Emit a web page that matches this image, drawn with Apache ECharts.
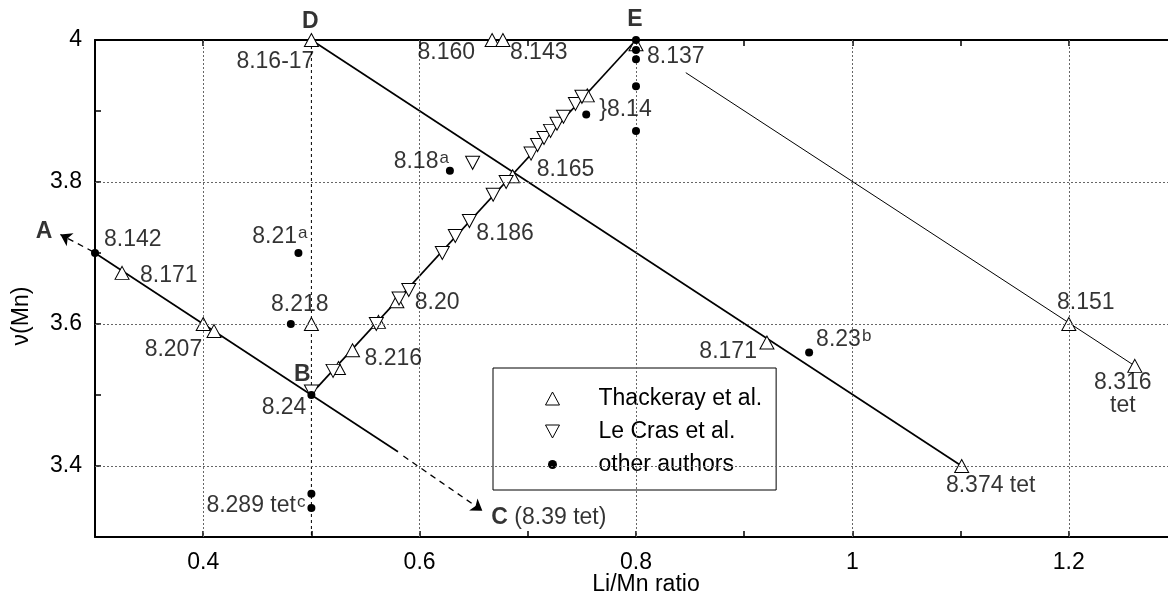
<!DOCTYPE html>
<html><head><meta charset="utf-8">
<script src="https://cdn.jsdelivr.net/npm/echarts/dist/echarts.min.js"></script>
<style>html,body{margin:0;padding:0;background:#fff}#c{width:1168px;height:598px}</style>
</head><body><div id="c"></div>
<script>
// ---------- data ----------
const xGrid = [0.4, 0.6, 0.8, 1.0, 1.2];
const yGrid = [3.4, 3.6, 3.8];

const thackeray = [
  [0.325,3.672],[0.400,3.600],[0.410,3.590],[0.500,3.600],[0.500,4.000],
  [0.525,3.538],[0.538,3.563],[0.562,3.603],[0.579,3.632],[0.686,3.808],
  [0.755,3.922],[0.800,3.994],[0.667,4.000],[0.677,4.000],[0.921,3.574],
  [1.101,3.400],[1.200,3.600],[1.261,3.541]
];
const leCras = [
  [0.500,3.505],[0.520,3.534],[0.560,3.600],[0.581,3.636],[0.590,3.648],
  [0.621,3.700],[0.633,3.724],[0.646,3.745],[0.668,3.782],[0.680,3.800],
  [0.649,3.827],[0.703,3.840],[0.709,3.852],[0.715,3.862],[0.721,3.872],
  [0.727,3.882],[0.733,3.892],[0.744,3.910],[0.750,3.920]
];
const others = [
  [0.300,3.700],[0.488,3.700],[0.481,3.600],[0.500,3.500],[0.500,3.361],
  [0.500,3.341],[0.628,3.816],[0.754,3.895],[0.800,4.000],[0.800,3.986],
  [0.800,3.973],[0.800,3.935],[0.800,3.872],[0.960,3.560]
];
const lineAB   = [[0.300,3.700],[0.580,3.420]];
const arrowToC = [[0.585,3.414],[0.658,3.337]];
const arrowToA = [[0.298,3.702],[0.268,3.726]];
const lineBE   = [[0.505,3.510],[0.800,4.000]];
const lineDF   = [[0.500,4.000],[1.101,3.400]];
const line151  = [[0.846,3.954],[1.261,3.541]];
const verticalD = [[0.500,4.000],[0.500,3.300]];

// ---------- annotation texts (anchored to the points above) ----------
const pointLabels = [
  {text:'8.142', at:['others',0], dx:9, dy:-13},
  {text:'A', at:['others',0], dx:-51, dy:-21, align:'center', bold:true},
  {text:'8.171', at:['thackeray',0], dx:18, dy:3},
  {text:'8.207', at:['thackeray',1], dx:-1, dy:26, align:'right'},
  {text:'8.218', at:['others',2], dx:9, dy:-19, align:'center'},
  {text:'B', at:['others',3], dx:-9, dy:-20, align:'center', bold:true},
  {text:'8.24', at:['others',3], dx:-5, dy:13, align:'right'},
  {text:'8.289 tet{sup|c}', at:['others',5], dx:-6, dy:-2, align:'right'},
  {text:'8.21{sup|a}', at:['others',1], dx:9, dy:-16, align:'right'},
  {text:'D', at:['thackeray',4], dx:-1, dy:-18, align:'center', bold:true},
  {text:'8.16-17', at:['thackeray',4], dx:3, dy:22, align:'right'},
  {text:'8.160', at:['thackeray',12], dx:-17, dy:13, align:'right'},
  {text:'8.143', at:['thackeray',13], dx:7, dy:13},
  {text:'E', at:['others',8], dx:-1, dy:-20, align:'center', bold:true},
  {text:'8.137', at:['others',8], dx:11, dy:17},
  {text:'}8.14', at:['others',7], dx:13, dy:-5},
  {text:'8.18{sup|a}', at:['others',6], dx:-1, dy:-9, align:'right'},
  {text:'8.165', at:['thackeray',9], dx:24, dy:-7},
  {text:'8.186', at:['leCras',6], dx:21, dy:-2},
  {text:'8.20', at:['leCras',4], dx:6, dy:13},
  {text:'8.216', at:['thackeray',6], dx:12, dy:8},
  {text:'8.171', at:['thackeray',14], dx:-10, dy:9, align:'right'},
  {text:'8.23{sup|b}', at:['others',13], dx:7, dy:-13},
  {text:'8.374 tet', at:['thackeray',15], dx:29, dy:20, align:'center'},
  {text:'8.151', at:['thackeray',16], dx:17, dy:-21, align:'center'},
  {text:'8.316\ntet', at:['thackeray',17], dx:-12, dy:28, align:'center', lh:23},
  {text:'{b|C} (8.39 tet)', at:['arrowToC',1], dx:9, dy:7}
];

// ---------- chart ----------
const FONT = 'Liberation Sans';
const FS = 23;
const sources = {thackeray, leCras, others, arrowToC, arrowToA};
const rich = {
  sup: {fontSize: 17, fontFamily: FONT, color: '#000', verticalAlign: 'top', padding: [0, 0, 7, 1]},
  b: {fontSize: FS, fontFamily: FONT, color: '#000', fontWeight: 'bold'}
};
const labelData = pointLabels.map(l => ({
  value: sources[l.at[0]][l.at[1]],
  label: {
    show: true, formatter: l.text, position: 'inside',
    offset: [l.dx, l.dy], align: l.align || 'left', verticalAlign: 'middle',
    fontSize: FS, fontFamily: FONT, color: '#000',
    fontWeight: l.bold ? 'bold' : 'normal',
    lineHeight: l.lh || undefined, rich: rich
  }
}));

const evenTenth = v => { const r = Math.round(v * 10); return r % 2 === 0 ? String(r / 10) : ''; };
const axisCommon = {
  type: 'value', interval: 0.1,
  axisLine: {show: true, onZero: false, lineStyle: {color: '#000', width: 2}},
  axisTick: {show: true, inside: true, length: 6, lineStyle: {color: '#000', width: 1.5}},
  splitLine: {show: false}
};
const solid = (data, w) => ({
  type: 'line', data: data, symbol: 'none', silent: true, z: 3,
  lineStyle: {color: '#000', width: w}
});
const arrow = data => ({
  type: 'lines', coordinateSystem: 'cartesian2d', clip: false, silent: true, z: 3,
  symbol: ['none', 'arrow'], symbolSize: 11,
  lineStyle: {color: '#000', width: 1.3, type: [6, 5], opacity: 1},
  data: [{coords: data}]
});
const openTri = {color: '#fff', borderColor: '#000', borderWidth: 1, opacity: 1};

const chart = echarts.init(document.getElementById('c'), null, {renderer: 'canvas'});
chart.setOption({
  animation: false,
  backgroundColor: '#fff',
  textStyle: {fontFamily: FONT},
  grid: {left: 95, right: -9, top: 40, bottom: 61, containLabel: false, outerBoundsMode: 'none'},
  xAxis: [
    Object.assign({}, axisCommon, {min: 0.3, max: 1.3, position: 'bottom',
      axisLabel: {formatter: evenTenth, fontSize: FS, color: '#000', margin: 14, fontFamily: FONT}}),
    Object.assign({}, axisCommon, {min: 0.3, max: 1.3, position: 'top', axisLabel: {show: false}})
  ],
  yAxis: [
    Object.assign({}, axisCommon, {min: 3.3, max: 4.0, position: 'left',
      axisLabel: {formatter: evenTenth, fontSize: FS, color: '#000', margin: 13, fontFamily: FONT}})
  ],
  legend: {
    left: 493, top: 368, orient: 'vertical', selectedMode: false,
    backgroundColor: '#fff', borderColor: '#000', borderWidth: 1, borderRadius: 0,
    padding: [19, 14, 14, 52], itemGap: 10, itemWidth: 14, itemHeight: 13,
    textStyle: {fontSize: FS, color: '#000', fontFamily: FONT, padding: [0, 0, 0, 34], lineHeight: 22},
    data: [
      {name: 'Thackeray et al.', icon: 'path://M7,0L14,13L0,13Z', itemStyle: openTri},
      {name: 'Le Cras et al.', icon: 'path://M0,0L14,0L7,13Z', itemStyle: openTri},
      {name: 'other authors', icon: 'path://M0,0M14,13M2.5,6.5a4.5,4.5 0 1,0 9,0a4.5,4.5 0 1,0 -9,0z'}
    ]
  },
  graphic: [
    {type: 'text', x: 22, y: 316, rotation: Math.PI / 2,
      style: {text: 'ν(Mn)', fontSize: FS, fontFamily: FONT, fill: '#000', align: 'center', verticalAlign: 'middle'}},
    {type: 'text', x: 646, y: 585,
      style: {text: 'Li/Mn ratio', fontSize: FS, fontFamily: FONT, fill: '#000', align: 'center', verticalAlign: 'middle'}}
  ],
  series: [
    {
      type: 'line', data: verticalD, symbol: 'none', silent: true, z: 1,
      lineStyle: {color: '#000', width: 1, type: [3, 3]},
      markLine: {
        silent: true, symbol: 'none', label: {show: false},
        lineStyle: {color: '#666', width: 1, type: [2, 2]},
        data: xGrid.map(v => ({xAxis: v})).concat(yGrid.map(v => ({yAxis: v})))
      }
    },
    solid(lineAB, 1.7),
    solid(lineBE, 1.7),
    solid(lineDF, 1.7),
    solid(line151, 1),
    arrow(arrowToC),
    arrow(arrowToA),
    {
      name: 'Thackeray et al.', type: 'scatter', data: thackeray, clip: false, z: 4,
      symbol: 'triangle', symbolSize: [14, 13], itemStyle: openTri
    },
    {
      name: 'Le Cras et al.', type: 'scatter', data: leCras, clip: false, z: 4,
      symbol: 'triangle', symbolRotate: 180, symbolSize: [14, 13], itemStyle: openTri
    },
    {
      name: 'other authors', type: 'scatter', data: others, clip: false, z: 5,
      symbol: 'circle', symbolSize: 8,
      itemStyle: {color: '#000', opacity: 1}
    },
    {
      type: 'scatter', data: labelData, clip: false, silent: true, z: 6,
      symbolSize: 0.01, itemStyle: {color: 'rgba(0,0,0,0)'}
    }
  ]
});
</script></body></html>
